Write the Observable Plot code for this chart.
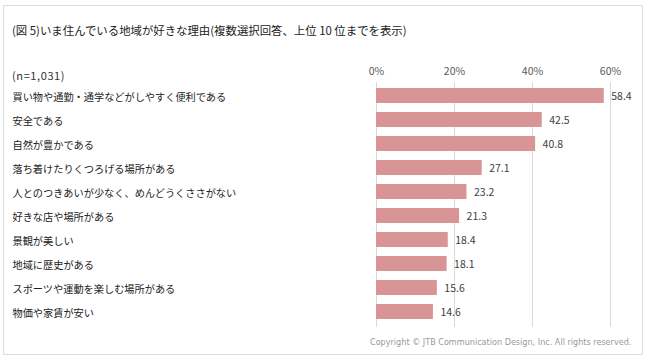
<!DOCTYPE html>
<html><head><meta charset="utf-8">
<script src="https://cdn.jsdelivr.net/npm/d3@7"></script>
<script src="https://cdn.jsdelivr.net/npm/@observablehq/plot@0.6"></script>
<style>
html,body{margin:0;padding:0;background:#fff;}
#wrap{position:relative;width:650px;height:362px;overflow:hidden;font-family:"Noto Sans CJK JP","Noto Sans",sans-serif;}
#frame{position:absolute;left:3px;top:5px;width:640px;height:350px;border:1px solid #dcdcdc;box-sizing:border-box;}
#title{position:absolute;left:12px;top:21px;font-size:11.4px;color:#222;white-space:nowrap;line-height:18px;}
#n{position:absolute;left:12px;top:67px;font-size:11px;letter-spacing:0.6px;color:#333;line-height:16px;}
#copy{position:absolute;left:370px;top:334px;font-size:9px;color:#9a9a9a;white-space:nowrap;line-height:16px;font-family:"DejaVu Sans Condensed","Liberation Sans",sans-serif;}
#chart{position:absolute;left:0;top:55px;}
#chart svg{display:block;}
</style></head>
<body><div id="wrap"><div id="frame"></div>
<div id="title">(図 5)いま住んでいる地域が好きな理由(複数選択回答、上位 10 位までを表示)</div>
<div id="n">(n=1,031)</div>
<div id="chart"></div>
<div id="copy">Copyright © JTB Communication Design, Inc. All rights reserved.</div>
</div>
<script>
const categories = [
  "買い物や通勤・通学などがしやすく便利である",
  "安全である",
  "自然が豊かである",
  "落ち着けたりくつろげる場所がある",
  "人とのつきあいが少なく、めんどうくささがない",
  "好きな店や場所がある",
  "景観が美しい",
  "地域に歴史がある",
  "スポーツや運動を楽しむ場所がある",
  "物価や家賃が安い"
];
const values = [58.4, 42.5, 40.8, 27.1, 23.2, 21.3, 18.4, 18.1, 15.6, 14.6];
const xTicks = [0, 20, 40, 60];

const data = categories.map((c, i) => ({label: c, value: values[i]}));

const chart = Plot.plot({
  width: 650,
  height: 280,
  marginLeft: 376,
  marginRight: 40,
  marginTop: 27,
  marginBottom: 11,
  style: {fontFamily: '"Noto Sans CJK JP","Noto Sans",sans-serif', background: "transparent"},
  x: {domain: [0, 60]},
  y: {domain: categories, paddingInner: 0.39, paddingOuter: 0.2, axis: null},
  marks: [
    Plot.gridX(xTicks, {stroke: "#d9d9d9", strokeOpacity: 1, insetBottom: -3}),
    Plot.axisX({anchor: "top", ticks: xTicks, tickFormat: d => d + "%", tickSize: 0, tickPadding: 8, fontSize: 10.5, fill: "#595959", label: null}),
    Plot.barX(data, {x: "value", y: "label", fill: "#d99595"}),
    Plot.text(data, {y: "label", text: "label", frameAnchor: "left", textAnchor: "start", dx: -364, dy: 1.5, fontSize: 10.2, fill: "#222"}),
    Plot.text(data, {x: "value", y: "label", text: d => d.value.toFixed(1), textAnchor: "start", dx: 7, dy: 1, fontSize: 10.5, fill: "#404040"})
  ]
});
document.getElementById("chart").appendChild(chart);
</script>
</body></html>
